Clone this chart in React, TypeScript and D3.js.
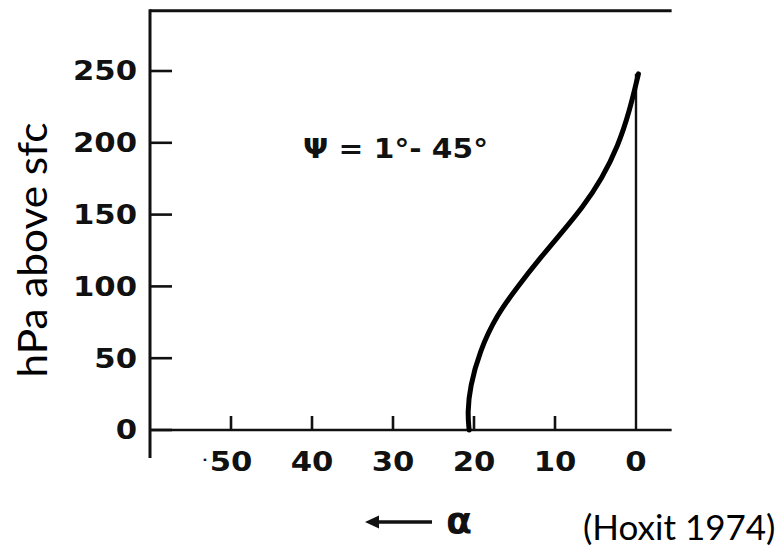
import React from "react";
import * as d3 from "d3";

// Ageostrophic wind angle alpha (deg) versus height above the surface (hPa)
const alphaDeg = [20.6, 20.8, 20.5, 19.3, 17.2, 14.6, 11.8, 9.1, 6.6, 4.2, 2.2, 0.8, -0.3];
const hPaAbove = [0, 12, 30, 55, 80, 100, 120, 138, 155, 175, 198, 222, 248];

const yTicks = [0, 50, 100, 150, 200, 250];
const xTicks = [50, 40, 30, 20, 10];
const xTickLabels = ["·50", "40", "30", "20", "10", "0"];
const xLabelValues = [50, 40, 30, 20, 10, 0];

const W = 777;
const H = 549;

const x = d3.scaleLinear().domain([60, 0]).range([150, 636]);
const y = d3.scaleLinear().domain([0, 250]).range([430, 71]);

const xMin = 60;
const xMax = -4.4;
const yTop = 292;

const letterFont = "'DejaVu Sans', sans-serif";
const tickFontSize = 26;
const stretch = 1.18;

export default function App() {
  const pts = alphaDeg.map((a, i) => [a, hPaAbove[i]] as [number, number]);
  const line = d3
    .line<[number, number]>()
    .x((d) => x(d[0]))
    .y((d) => y(d[1]))
    .curve(d3.curveBasis);

  const x0 = x(xMin);
  const x1 = x(xMax);
  const yT = y(yTop);
  const yB = y(0);

  return (
    <svg
      width={W}
      height={H}
      style={{ position: "absolute", left: 0, top: 0, background: "#fff" }}
    >
      <rect width={W} height={H} fill="#fff" />

      {/* frame: top rule and left axis */}
      <line x1={x0} x2={x1} y1={yT} y2={yT} stroke="#111" strokeWidth={3} />
      <line x1={x0} x2={x0} y1={yT - 1.5} y2={yB + 28} stroke="#111" strokeWidth={3} />
      {/* bottom axis */}
      <line x1={x0} x2={x1} y1={yB} y2={yB} stroke="#111" strokeWidth={2.6} />

      {/* y ticks and labels */}
      {yTicks.map((t) => (
        <g key={"y" + t}>
          <line x1={x0} x2={x0 + 22} y1={y(t)} y2={y(t)} stroke="#111" strokeWidth={2.6} />
          <text
            transform={`translate(137, ${y(t) + 0.365 * tickFontSize}) scale(${stretch},1)`}
            textAnchor="end"
            fontFamily={letterFont}
            fontWeight="bold"
            fontSize={tickFontSize}
            fill="#111"
          >
            {t}
          </text>
        </g>
      ))}

      {/* x ticks */}
      {xTicks.map((t) => (
        <line key={"xt" + t} x1={x(t)} x2={x(t)} y1={yB} y2={yB - 14} stroke="#111" strokeWidth={2.6} />
      ))}
      {/* zero reference line */}
      <line x1={x(0)} x2={x(0)} y1={yB} y2={y(hPaAbove[hPaAbove.length - 1])} stroke="#111" strokeWidth={2.4} />

      {/* x tick labels */}
      {xTickLabels.map((lab, i) => {
        const hasDot = lab.startsWith("·");
        const digits = hasDot ? lab.slice(1) : lab;
        return (
          <text
            key={"xl" + i}
            transform={`translate(${x(xLabelValues[i])}, 471) scale(${stretch},1)`}
            textAnchor="middle"
            fontFamily={letterFont}
            fontWeight="bold"
            fontSize={tickFontSize}
            fill="#111"
          >
            {digits}
            {hasDot && (
              <tspan x={-digits.length * 0.348 * tickFontSize - 4} dy={-7} fontSize={12}>
                ·
              </tspan>
            )}
          </text>
        );
      })}

      {/* profile curve */}
      <path d={line(pts) ?? ""} fill="none" stroke="#000" strokeWidth={5} strokeLinecap="round" />

      {/* annotation */}
      <text
        x={303}
        y={158}
        fontFamily={letterFont}
        fontWeight="bold"
        fontSize={27}
        fill="#111"
        textLength={185}
        lengthAdjust="spacingAndGlyphs"
      >
        Ψ = 1°- 45°
      </text>

      {/* direction of alpha */}
      <line x1={432} x2={376} y1={522} y2={522} stroke="#111" strokeWidth={3.5} />
      <path d="M365,522 L379,515.5 L379,528.5 Z" fill="#111" />
      <text x={446} y={533} fontFamily={letterFont} fontWeight="bold" fontSize={38} fill="#111">
        α
      </text>

      {/* axis title */}
      <text
        transform="translate(47, 250) rotate(-90)"
        textAnchor="middle"
        fontFamily="Lato, sans-serif"
        fontSize={41}
        fill="#000"
        textLength={255}
        lengthAdjust="spacingAndGlyphs"
      >
        hPa above sfc
      </text>

      {/* source */}
      <text x={583} y={540} fontFamily="Lato, sans-serif" fontSize={35} fill="#000">
        (Hoxit 1974)
      </text>
    </svg>
  );
}
